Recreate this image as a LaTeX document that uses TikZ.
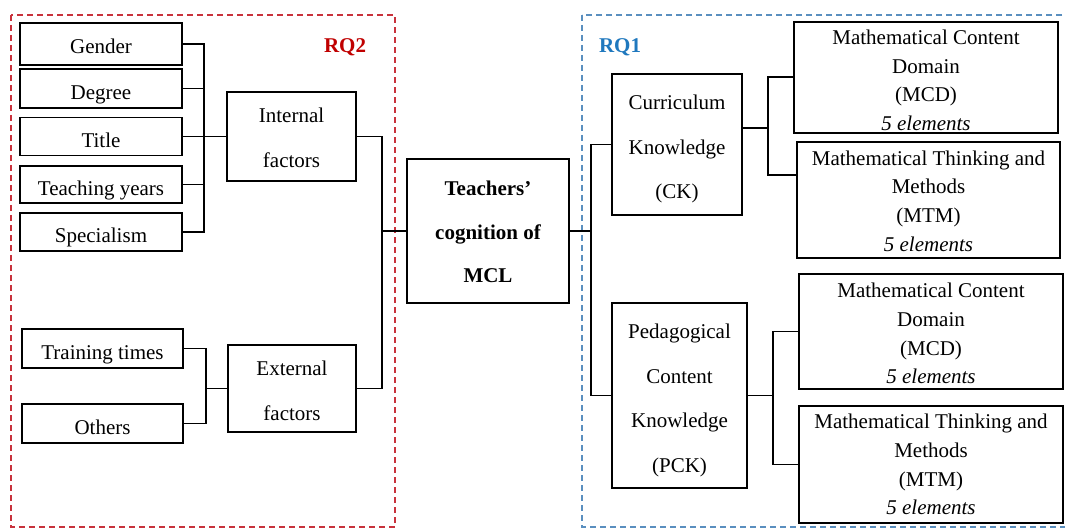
\documentclass[tikz,border=0pt]{standalone}
\usepackage{fontspec}
\setmainfont{Liberation Serif}
\definecolor{rqred}{HTML}{C00000}
\definecolor{boxred}{HTML}{C8323C}
\definecolor{rqblue}{HTML}{1F78BE}
\definecolor{boxblue}{HTML}{5A8FBF}
\newcommand\dnstrut[1]{\rule{0pt}{#1}}
\tikzset{
  nbox/.style={draw, line width=1.2pt, inner sep=0pt, align=center, font=\fontsize{21}{25}\selectfont},
  onebox/.style={nbox, text height=22pt, text depth=0pt},
  tallbox/.style={nbox, font=\fontsize{21}{44.5}\selectfont},
  itembox/.style={nbox, font=\fontsize{21}{28.7}\selectfont},
  conn/.style={line width=1.2pt},
  region/.style={line width=1.2pt, dash pattern=on 6pt off 4pt},
  rqlabel/.style={font=\fontsize{21}{25}\selectfont\bfseries}
}
\begin{document}
\begin{tikzpicture}[x=1pt,y=-1pt]
\useasboundingbox (0,0) rectangle (1065,529);
\clip (0,0) rectangle (1065,529);
\fill[white] (0,0) rectangle (1065,529);
% regions
\draw[region, boxred] (11,15) rectangle (395,527);
\draw[region, boxblue] (582,15) rectangle (1090,527);
\node[rqlabel, text=rqred] (rq2) at (345,47) {RQ2};
\node[rqlabel, text=rqblue] (rq1) at (620,47) {RQ1};
% left boxes
\node[onebox, minimum width=162pt, minimum height=42pt, text height=20pt] (gender) at (101,44) {Gender};
\node[onebox, minimum width=162pt, minimum height=39pt] (degree) at (101,88.5) {Degree};
\node[onebox, minimum width=162pt, minimum height=38pt, text height=23pt] (title) at (101,136.5) {Title};
\node[onebox, minimum width=162pt, minimum height=37pt] (teach) at (101,184.5) {Teaching years};
\node[onebox, minimum width=162pt, minimum height=38pt] (spec) at (101,232) {Specialism};
\node[onebox, minimum width=161pt, minimum height=39pt] (train) at (102.5,348.5) {Training times};
\node[onebox, minimum width=161pt, minimum height=39pt] (others) at (102.5,423.5) {Others};
\node[tallbox, minimum width=129pt, minimum height=89pt] (internal) at (291.5,136.5) {\dnstrut{17.4pt}Internal\\factors};
\node[tallbox, minimum width=128pt, minimum height=87pt] (external) at (292,388.5) {\dnstrut{19.4pt}External\\factors};
\node[tallbox, minimum width=162pt, minimum height=144pt, font=\fontsize{21}{43.5}\selectfont\bfseries] (teachers) at (488,231) {\dnstrut{16.4pt}Teachers'\\cognition of\\MCL};
\node[tallbox, minimum width=130pt, minimum height=141pt] (ck) at (677,144.5) {\dnstrut{24.4pt}Curriculum\\Knowledge\\(CK)};
\node[tallbox, minimum width=135pt, minimum height=185pt] (pck) at (679.5,395.5) {\dnstrut{24.4pt}Pedagogical\\Content\\Knowledge\\(PCK)};
\node[itembox, minimum width=264pt, minimum height=111pt] (mcd1) at (926,77.5) {\dnstrut{20pt}Mathematical Content\\Domain\\(MCD)\\\textit{5 elements}};
\node[itembox, minimum width=263pt, minimum height=116pt] (mtm1) at (928.5,200) {\dnstrut{16.4pt}Mathematical Thinking and\\Methods\\(MTM)\\\textit{5 elements}};
\node[itembox, minimum width=264pt, minimum height=115pt] (mcd2) at (931,331.5) {\dnstrut{19pt}Mathematical Content\\Domain\\(MCD)\\\textit{5 elements}};
\node[itembox, minimum width=264pt, minimum height=117pt] (mtm2) at (931,464.5) {Mathematical Thinking and\\Methods\\(MTM)\\\textit{5 elements}};
% bus coordinates
\coordinate (busL) at (204,136.5);
\coordinate (busE) at (206,388.5);
\coordinate (busM) at (382,231);
\coordinate (busR) at (591,231);
\coordinate (busCK) at (768,128);
\coordinate (busPCK) at (773,395.5);
% connectors
\draw[conn] (gender.east) -| (busL) |- (spec.east);
\draw[conn] (degree.east) -| (busL);
\draw[conn] (teach.east) -| (busL);
\draw[conn] (title.east) -- (internal.west);
\draw[conn] (train.east) -| (busE) |- (others.east);
\draw[conn] (busE) -- (external.west);
\draw[conn] (internal.east) -| (busM) |- (external.east);
\draw[conn] (busM) -- (teachers.west);
\draw[conn] (teachers.east) -- (busR);
\draw[conn] (ck.west) -| (busR) |- (pck.west);
\draw[conn] (ck.east |- busCK) -- (busCK);
\draw[conn] (mcd1.west |- 0,77) -| (busCK) |- (mtm1.west |- 0,175);
\draw[conn] (pck.east) -- (busPCK);
\draw[conn] (mcd2.west) -| (busPCK) |- (mtm2.west);
\end{tikzpicture}
\end{document}
